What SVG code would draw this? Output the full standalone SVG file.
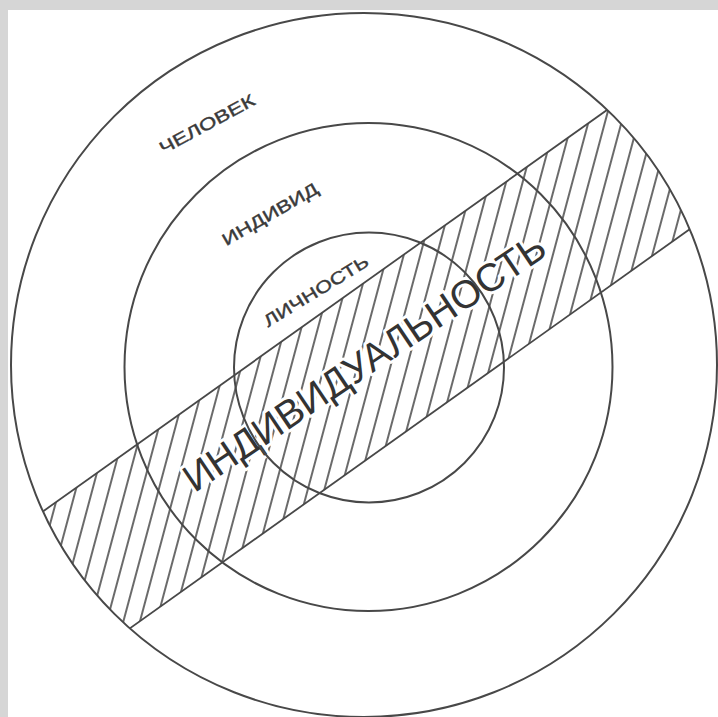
<svg xmlns="http://www.w3.org/2000/svg" width="718" height="717" viewBox="0 0 718 717">
  <defs>
    <style>
      .ring { fill: none; stroke: #484848; stroke-width: 2; }
      .edge { fill: none; stroke: #484848; stroke-width: 1.8; }
      .lbl { font-family: "Liberation Sans", "DejaVu Sans", sans-serif; fill: #3a3a3a; stroke: #3a3a3a; stroke-width: 0.4; }
      .big { font-family: "Liberation Sans", "DejaVu Sans", sans-serif; fill: #333; stroke: #fff; stroke-width: 6; paint-order: stroke; stroke-linejoin: round; }
    </style>
    <clipPath id="outerClip">
      <ellipse cx="364" cy="365" rx="353" ry="352"/>
    </clipPath>
    <pattern id="hatch" patternUnits="userSpaceOnUse" width="16" height="16" patternTransform="rotate(15)">
      <line x1="8" y1="-1" x2="8" y2="17" stroke="#505050" stroke-width="1.7"/>
    </pattern>
  </defs>

  <rect x="0" y="0" width="718" height="717" fill="#d6d6d6"/>
  <rect x="8" y="10" width="710" height="707" fill="#fff"/>

  <g id="band" clip-path="url(#outerClip)">
    <polygon points="0,542 718,31 718,209 0,721" fill="url(#hatch)"/>
  </g>

  <g id="individuality-label">
    <text class="big" transform="translate(364,362) rotate(-34)" x="0" y="14" font-size="39" text-anchor="middle" textLength="428" lengthAdjust="spacingAndGlyphs">ИНДИВИДУАЛЬНОСТЬ</text>
  </g>

  <g id="connectors" clip-path="url(#outerClip)">
    <line class="edge" x1="0" y1="542" x2="718" y2="31"/>
    <line class="edge" x1="0" y1="721" x2="718" y2="209"/>
  </g>

  <g id="chelovek">
    <ellipse class="ring" cx="364" cy="365" rx="353" ry="352"/>
    <text class="lbl" transform="translate(207,124) rotate(-28.5)" x="0" y="6" font-size="17" text-anchor="middle" textLength="106" lengthAdjust="spacingAndGlyphs">ЧЕЛОВЕК</text>
  </g>

  <g id="individ">
    <circle class="ring" cx="368.5" cy="367" r="244"/>
    <text class="lbl" transform="translate(270,214) rotate(-30)" x="0" y="6" font-size="17" text-anchor="middle" textLength="108" lengthAdjust="spacingAndGlyphs">ИНДИВИД</text>
  </g>

  <g id="lichnost">
    <circle class="ring" cx="369" cy="367.5" r="135"/>
    <text class="lbl" transform="translate(316,291) rotate(-31.5)" x="0" y="6" font-size="17" text-anchor="middle" textLength="120" lengthAdjust="spacingAndGlyphs">ЛИЧНОСТЬ</text>
  </g>
</svg>
